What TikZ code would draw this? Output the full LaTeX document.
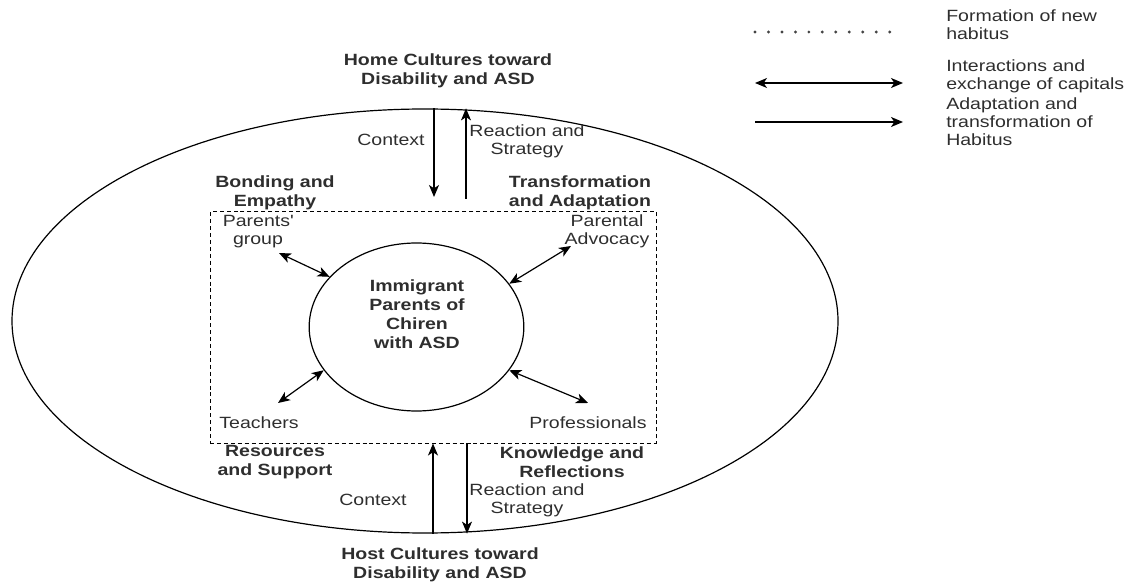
\documentclass[tikz,border=0pt]{standalone}
\usepackage{fontspec}
\setmainfont{Liberation Sans}[FakeStretch=1.2]
\usetikzlibrary{arrows.meta,shapes.geometric}
\definecolor{inkgray}{HTML}{2E2E2E}
\definecolor{dotgray}{HTML}{444444}
\tikzset{
  lbl/.style={font=\fontsize{12.2}{13.5}\selectfont, text=inkgray, align=center, inner sep=0pt},
  boldlbl/.style={lbl, font=\fontsize{12.2}{14.2}\selectfont\bfseries},
  legendtxt/.style={lbl, align=left, anchor=west},
  flow/.style={-{Stealth[length=9pt,width=7.5pt,inset=2.5pt]}, line width=0.9pt},
  trade/.style={{Stealth[length=9pt,width=7.5pt,inset=2.5pt]}-{Stealth[length=9pt,width=7.5pt,inset=2.5pt]}, line width=0.9pt},
  ring/.style={draw, ellipse, line width=0.9pt, inner sep=0pt},
}
\begin{document}
\begin{tikzpicture}[x=0.75pt,y=-0.75pt]
  \useasboundingbox (0,0) rectangle (1131,584);
  % field, dashed habitus box and the core
  \node[ring, minimum width=619.5pt, minimum height=318pt] (field) at (425,321) {};
  \node[draw, dash pattern=on 3pt off 2.2pt, line width=0.75pt, inner sep=0pt,
        minimum width=334.5pt, minimum height=173.25pt] (box) at (433,327.5) {};
  \node[ring, minimum width=161pt, minimum height=126pt] (core) at (416.5,327) {};
  \node[boldlbl] (coretxt) at (417,314) {Immigrant\\Parents of\\Chiren\\with ASD};

  % top and bottom labels
  \node[boldlbl] (home) at (448,70.5) {Home Cultures toward\\Disability and ASD};
  \node[lbl] (ctxtop) at (391,140) {Context};
  \node[lbl] (reatop) at (527,141) {Reaction and\\Strategy};
  \node[boldlbl] (bond) at (275,192.5) {Bonding and\\Empathy};
  \node[boldlbl] (trans) at (580,192.5) {Transformation\\and Adaptation};
  \node[boldlbl] (res) at (275,462.5) {Resources\\and Support};
  \node[boldlbl] (know) at (572,462.5) {Knowledge and\\Reflections};
  \node[lbl] (ctxbot) at (373,500) {Context};
  \node[lbl] (reabot) at (527,500) {Reaction and\\Strategy};
  \node[boldlbl] (host) at (440,564.5) {Host Cultures toward\\Disability and ASD};

  % actors round the core
  \node[lbl] (pg) at (258,231.5) {Parents\textquotesingle\\group};
  \node[lbl] (pa) at (607,231.5) {Parental\\Advocacy};
  \node[lbl] (tea) at (259,423) {Teachers};
  \node[lbl] (pro) at (588,423) {Professionals};

  % vertical flows
  \coordinate (ctxA) at (434,197);
  \coordinate (reaA) at (466,199);
  \coordinate (reaB) at (467,443);
  \draw[flow] (ctxA |- field.north) -- (ctxA);
  \draw[flow] (reaA) -- (reaA |- field.north);
  \draw[flow] (box.south |- field.south) -- (box.south);
  \draw[flow] (reaB) -- (reaB |- field.south);

  % exchanges with the core
  \coordinate (pgEnd) at (279,253);
  \coordinate (paEnd) at (571,246);
  \coordinate (teaEnd) at (278,403);
  \coordinate (proEnd) at (588,403);
  \draw[trade] (pgEnd) -- (core.150);
  \draw[trade] (paEnd) -- (core.25);
  \draw[trade] (teaEnd) -- (core.205);
  \draw[trade] (proEnd) -- (core.335);

  % legend
  \coordinate (k1a) at (755,32);  \coordinate (k1b) at (903,32);
  \coordinate (k2a) at (755,83);  \coordinate (k2b) at (903,83);
  \coordinate (k3a) at (755,122); \coordinate (k3b) at (903,122);
  \draw[dotgray, line width=2.4pt, line cap=round, dash pattern=on 0pt off 10.1pt] (k1a) -- (k1b);
  \draw[trade] (k2a) -- (k2b);
  \draw[flow] (k3a) -- (k3b);
  \node[legendtxt] (k1t) at (946,25) {Formation of new\\habitus};
  \node[legendtxt] (k2t) at (946,76) {Interactions and\\exchange of capitals};
  \node[legendtxt] (k3t) at (946,121.5) {Adaptation and\\transformation of\\Habitus};
\end{tikzpicture}
\end{document}
